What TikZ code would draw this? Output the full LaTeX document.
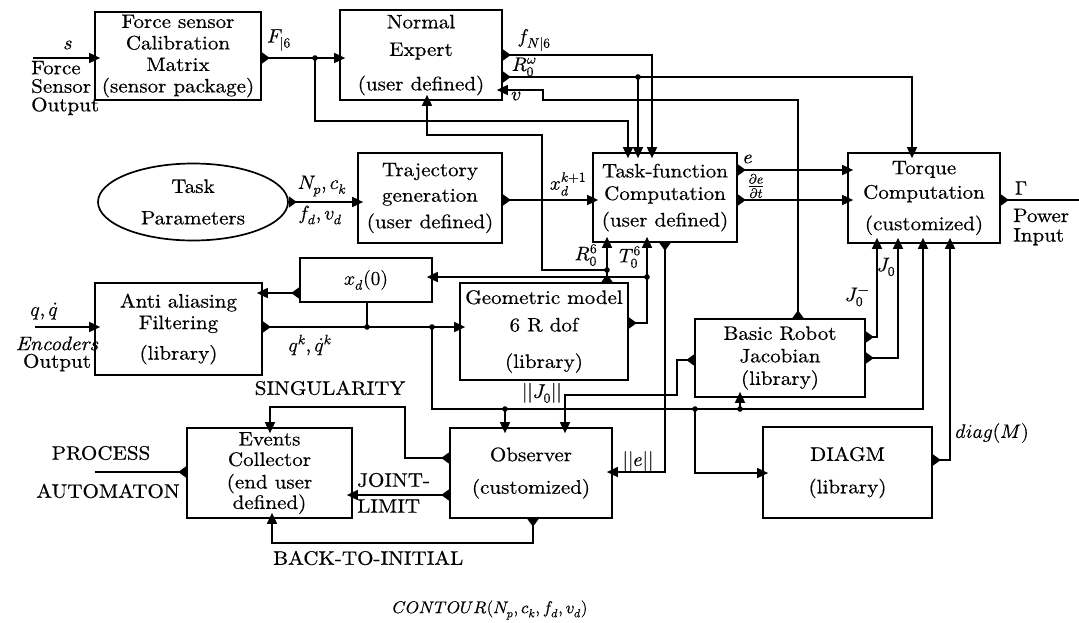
\documentclass[tikz,border=0pt]{standalone}
\usepackage{fontspec}
\usepackage{unicode-math}
\setmainfont{lmroman10-regular.otf}[FakeStretch=1.08, FakeBold=0.5, ItalicFont=lmroman10-italic.otf, BoldFont=lmroman10-bold.otf]
\setmathfont{latinmodern-math.otf}[FakeBold=0.5]
\usetikzlibrary{arrows.meta,shapes.geometric}
\tikzset{
  box/.style={draw, line width=1.7pt, inner sep=0pt, align=center, font=\fontsize{19.5}{21.5}\selectfont},
  wire/.style={line width=1.7pt},
  flow/.style={wire, {Triangle[reversed,length=8pt,width=11pt]}-{Triangle[length=11pt,width=10pt]}, shorten >=-6pt},
  outm/.style={wire, {Triangle[reversed,length=8pt,width=11pt]}-},
  inarr/.style={wire, -{Triangle[length=11pt,width=10pt]}, shorten >=-6pt},
  lbl/.style={font=\fontsize{19.5}{21.5}\selectfont, inner sep=0pt},
  jdot/.style={fill},
}
\begin{document}
\begin{tikzpicture}[x=1pt,y=-1pt]
\fill[white] (0,0) rectangle (1079,622);
\useasboundingbox (0,0) rectangle (1079,622);

% boxes
\node[box, minimum width=166pt, minimum height=88pt] (force) at (178,56) {Force sensor\\Calibration\\Matrix\\(sensor package)};
\node[box, minimum width=162pt, minimum height=90pt] (normal) at (421,55) {Normal\\[6pt]Expert\\[13pt](user defined)};
\node[draw, ellipse, line width=1.7pt, inner sep=0pt, align=center, font=\fontsize{19.5}{21.5}\selectfont, minimum width=190pt, minimum height=77pt] (tp) at (193,202) {Task\\[10pt]Parameters};
\node[box, minimum width=144pt, minimum height=90pt] (traj) at (430,198) {Trajectory\\[4pt]generation\\[5pt](user defined)};
\node[box, minimum width=144pt, minimum height=89pt] (task) at (665,197.5) {Task-function\\[1pt]Computation\\[5pt](user defined)};
\node[box, minimum width=152pt, minimum height=90pt] (torque) at (924,198) {Torque\\[3pt]Computation\\[10pt](customized)};
\node[box, minimum width=132pt, minimum height=44pt] (xd0) at (366,280) {$x_d(0)$};
\node[box, minimum width=167pt, minimum height=92pt] (anti) at (178.5,329) {Anti aliasing\\[0pt]Filtering\\[9pt](library)};
\node[box, minimum width=168pt, minimum height=97pt] (geom) at (544,331.5) {Geometric model\\[6pt]6 R dof\\[15pt](library)};
\node[box, minimum width=170pt, minimum height=78pt] (jac) at (780,358) {Basic Robot\\[1pt]Jacobian\\[1pt](library)};
\node[box, minimum width=165pt, minimum height=90pt] (events) at (269.5,473) {Events\\[-1pt]Collector\\[1pt](end user\\[-1pt]defined)};
\node[box, minimum width=162pt, minimum height=90pt] (obs) at (531,473) {Observer\\[11pt](customized)};
\node[box, minimum width=169pt, minimum height=91pt] (diagm) at (847.5,472.5) {DIAGM\\[11pt](library)};

% coordinates
\coordinate (sIn) at (33,58);
\coordinate (jF) at (315,58);
\coordinate (fA) at (315,121);
\coordinate (fB) at (628,121);
\coordinate (fN1) at (652,55);
\coordinate (rw1) at (912,77);
\coordinate (jRw) at (638,77);
\coordinate (v1) at (798,100);
\coordinate (v2) at (543,100);
\coordinate (v3) at (543,90);
\coordinate (xk) at (0,200);
\coordinate (eY) at (0,170);
\coordinate (gOut) at (1079,200);
\coordinate (r1) at (607,270);
\coordinate (r2) at (542,270);
\coordinate (r3) at (542,135);
\coordinate (r4) at (427,135);
\coordinate (t1) at (647,323);
\coordinate (t2) at (647,277);
\coordinate (e1) at (665,472);
\coordinate (x1) at (0,293);
\coordinate (qIn) at (35,327);
\coordinate (jq1) at (367,327);
\coordinate (jq2) at (432,327);
\coordinate (qa) at (432,409);
\coordinate (qb) at (923,409);
\coordinate (jq3) at (505,409);
\coordinate (jq4) at (695,409);
\coordinate (jq4b) at (695,473);
\coordinate (jq5) at (740,409);
\coordinate (k1) at (677,360);
\coordinate (k2) at (677,395);
\coordinate (k3) at (565,395);
\coordinate (m1) at (877,337);
\coordinate (m2) at (898,358);
\coordinate (n1) at (950,460);
\coordinate (s1) at (405,458);
\coordinate (s2) at (405,407);
\coordinate (s3) at (270,407);
\coordinate (jl) at (0,495);
\coordinate (b1) at (533,543);
\coordinate (b2) at (272,543);
\coordinate (pa) at (95,472);

% connectors
\draw[inarr] (sIn) -- (force.west |- sIn);
\draw[flow] (force.east |- jF) -- (normal.west |- jF);
\draw[inarr] (jF) -- (fA) -- (fB) -- (task.north -| fB);
\draw[flow] (normal.east |- fN1) -- (fN1) -- (task.north -| fN1);
\draw[flow] (normal.east |- rw1) -- (rw1) -- (torque.north -| rw1);
\draw[inarr] (jRw) -- (task.north -| jRw);
\draw[flow] (jac.north -| v1) -- (v1) -- (v2) -- (v3) -- (normal.east |- v3);
\draw[flow] (tp.east) -- (traj.west |- tp.east);
\draw[flow] (traj.east |- xk) -- (task.west |- xk);
\draw[flow] (task.east |- eY) -- (torque.west |- eY);
\draw[flow] (task.east |- xk) -- (torque.west |- xk);
\draw[outm] (torque.east |- gOut) -- (gOut);
\draw[flow] (geom.north -| r1) -- (task.south -| r1);
\draw[inarr] (r1) -- (r2) -- (r3) -- (r4) -- (normal.south -| r4);
\draw[flow] (geom.east |- t1) -- (t1) -- (task.south -| t1);
\draw[inarr] (t2) -- (xd0.east |- t2);
\draw[flow] (task.south -| e1) -- (e1) -- (obs.east |- e1);
\draw[flow] (xd0.west |- x1) -- (anti.east |- x1);
\draw[inarr] (qIn) -- (anti.west |- qIn);
\draw[flow] (anti.east |- jq1) -- (geom.west |- jq1);
\draw[wire] (jq1) -- (xd0.south -| jq1);
\draw[inarr] (jq2) -- (qa) -- (qb) -- (torque.south -| qb);
\draw[inarr] (jq3) -- (obs.north -| jq3);
\draw[inarr] (jq4) -- (jq4b) -- (diagm.west |- jq4b);
\draw[inarr] (jq5) -- (jac.south -| jq5);
\draw[flow] (jac.west |- k1) -- (k1) -- (k2) -- (k3) -- (obs.north -| k3);
\draw[flow] (jac.east |- m1) -- (m1) -- (torque.south -| m1);
\draw[flow] (jac.east |- m2) -- (m2) -- (torque.south -| m2);
\draw[flow] (diagm.east |- n1) -- (n1) -- (torque.south -| n1);
\draw[flow] (obs.west |- s1) -- (s1) -- (s2) -- (s3) -- (events.north -| s3);
\draw[flow] (obs.west |- jl) -- (events.east |- jl);
\draw[flow] (obs.south -| b1) -- (b1) -- (b2) -- (events.south -| b2);
\draw[outm] (events.west |- pa) -- (pa);

% junction dots
\foreach \p in {jF,jRw,r1,t2,jq1,jq2,jq3,jq4,jq5}
  \fill[jdot] (\p) circle (2.8pt);

% labels
\node[lbl] (ls) at (68,45) {$s$};
\node[lbl, align=left, anchor=west] (lfso) at (31,88) {Force\\[-3pt]Sensor\\[-3pt]Output};
\node[lbl] (lF) at (279,40) {$F_{|6}$};
\node[lbl] (lfN) at (534,40) {$f_{N|6}$};
\node[lbl] (lRw) at (524,67) {$R_0^\omega$};
\node[lbl] (lv) at (516,96) {$v$};
\node[lbl] (lNp) at (322,186) {$N_p, c_k$};
\node[lbl] (lfd) at (320,215) {$f_d, v_d$};
\node[lbl] (lxk) at (568,184) {$x_d^{k+1}$};
\node[lbl] (le) at (748,159) {$e$};
\node[lbl] (lde) at (756,186) {$\frac{\partial e}{\partial t}$};
\node[lbl] (lG) at (1021,188) {$\Gamma$};
\node[lbl, align=left, anchor=west] (lpi) at (1013,227) {Power\\[-2pt]Input};
\node[lbl] (lR6) at (586,255) {$R_0^6$};
\node[lbl] (lT6) at (630,257) {$T_0^6$};
\node[lbl] (lq) at (44,311) {$q, \dot q$};
\node[lbl, align=center] (leo) at (57,354) {\textit{Encoders}\\[-4pt]Output};
\node[lbl] (lqk) at (310,345) {$q^k, \dot q^k$};
\node[lbl] (lsing) at (330,388) {SINGULARITY};
\node[lbl] (lproc) at (101,453) {PROCESS};
\node[lbl] (laut) at (108,491) {AUTOMATON};
\node[lbl, anchor=west] (ljoint) at (357,480) {JOINT-};
\node[lbl, anchor=west] (llimit) at (357,506) {LIMIT};
\node[lbl, anchor=west] (lback) at (273,558) {BACK-TO-INITIAL};
\node[lbl, anchor=east] (lJ0) at (562,393) {$||J_0||$};
\node[lbl] (lee) at (638,461) {$||e||$};
\node[lbl] (lJm) at (857,297) {$J_0^{-}$};
\node[lbl] (lJ) at (886,267) {$J_0$};
\node[lbl, anchor=west] (ldiag) at (955,433) {$diag(M)$};
\node[lbl, font=\fontsize{17}{19}\selectfont] (lcont) at (490,610) {$CONTOUR(N_p, c_k, f_d, v_d)$};
\end{tikzpicture}
\end{document}
